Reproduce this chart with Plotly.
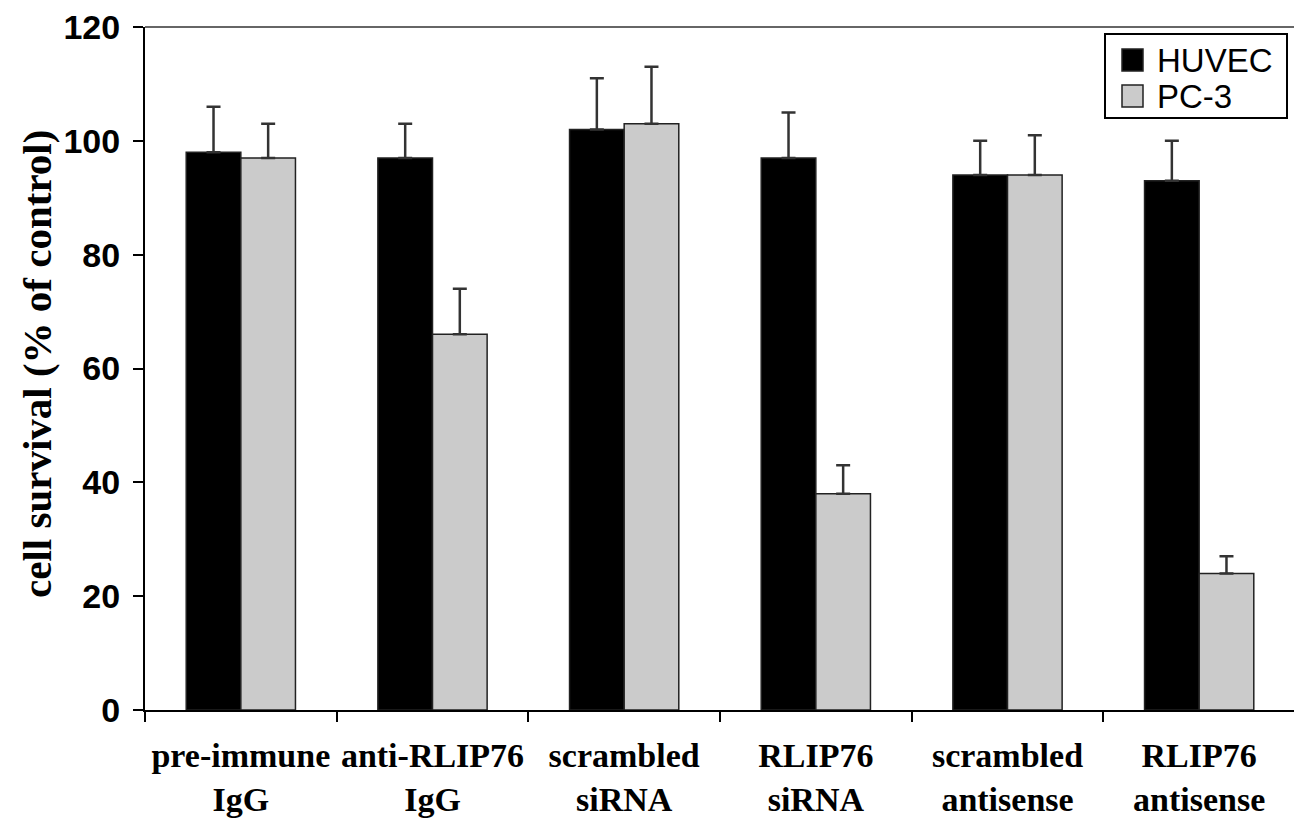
import plotly.graph_objects as go

categories = ["pre-immune<br>IgG", "anti-RLIP76<br>IgG", "scrambled<br>siRNA",
              "RLIP76<br>siRNA", "scrambled<br>antisense", "RLIP76<br>antisense"]
huvec = [98, 97, 102, 97, 94, 93]
huvec_err = [8, 6, 9, 8, 6, 7]
pc3 = [97, 66, 103, 38, 94, 24]
pc3_err = [6, 8, 10, 5, 7, 3]
y_ticks = [0, 20, 40, 60, 80, 100, 120]
series_names = ["HUVEC", "PC-3"]
series_colors = ["#000000", "#cbcbcb"]

# The page body adds an 8px margin; the figure is sized to compensate.
W, H = 1294, 817
ML, MR, MT, MB = 137, 7, 19, 115
PW, PH = W - ML - MR, H - MT - MB

def px_x(x):  # screen-pixel x (reference image) -> paper x
    return (x - 8 - ML) / PW

def px_y(y):  # screen-pixel y (reference image) -> paper y
    return (H - MB - (y - 8)) / PH

fig = go.Figure()
for name, vals, errs, col in zip(series_names, [huvec, pc3], [huvec_err, pc3_err], series_colors):
    fig.add_trace(go.Bar(
        x=categories, y=vals, name=name, showlegend=False,
        marker=dict(color=col, line=dict(color="#222222", width=1.5)),
        error_y=dict(type="data", array=errs, arrayminus=[0] * len(errs),
                     symmetric=False, color="#333333", thickness=2.5, width=7),
    ))

shapes = [
    dict(type="line", xref="paper", yref="paper", x0=0, x1=1, y0=1, y1=1,
         line=dict(color="#333333", width=1.5)),
    dict(type="line", xref="paper", yref="paper", x0=1, x1=1, y0=0, y1=1,
         line=dict(color="#bbbbbb", width=1.5)),
    # legend box
    dict(type="rect", xref="paper", yref="paper",
         x0=px_x(1105), x1=px_x(1287), y0=px_y(118), y1=px_y(34),
         line=dict(color="black", width=2), fillcolor="white", layer="above"),
]
annotations = []
legend_rows = [60, 96]
for name, col, yc in zip(series_names, series_colors, legend_rows):
    shapes.append(dict(type="rect", xref="paper", yref="paper",
                       x0=px_x(1122), x1=px_x(1143), y0=px_y(yc + 11), y1=px_y(yc - 11),
                       line=dict(color="#222222", width=1.5), fillcolor=col, layer="above"))
    annotations.append(dict(text=name, xref="paper", yref="paper",
                            x=px_x(1155), y=px_y(yc), xanchor="left", yanchor="middle",
                            showarrow=False,
                            font=dict(family="Liberation Sans, Arial, sans-serif",
                                      size=33, color="black")))
annotations.append(dict(text="cell survival (% of control)", xref="paper", yref="paper",
                        x=px_x(37), y=px_y(364), xanchor="center", yanchor="middle",
                        textangle=-90, showarrow=False,
                        font=dict(family="Liberation Serif, Times New Roman, serif",
                                  size=41, color="black", weight="bold")))

fig.update_layout(
    width=W, height=H,
    margin=dict(l=ML, r=MR, t=MT, b=MB),
    paper_bgcolor="white", plot_bgcolor="white",
    barmode="group", bargap=0.43, bargroupgap=0,
    showlegend=False,
    xaxis=dict(
        type="category", showline=True, linecolor="black", linewidth=2,
        ticks="outside", tickson="boundaries", ticklen=10, tickwidth=2, tickcolor="black",
        tickangle=0,
        tickfont=dict(family="Liberation Serif, Times New Roman, serif", size=34,
                      color="black", weight="bold"),
        ticklabelstandoff=14, showgrid=False, zeroline=False, automargin=False,
        ticklabeloverflow="allow",
    ),
    yaxis=dict(
        range=[0, 120], tickvals=y_ticks, showline=True, linecolor="black", linewidth=2,
        ticks="outside", ticklen=10, tickwidth=2, tickcolor="black",
        tickfont=dict(family="Liberation Sans, Arial, sans-serif", size=34,
                      color="black", weight="bold"),
        ticklabelstandoff=6, ticklabeloverflow="allow",
        showgrid=False, zeroline=False, automargin=False,
    ),
    shapes=shapes,
    annotations=annotations,
)

fig.write_html("out.html")
